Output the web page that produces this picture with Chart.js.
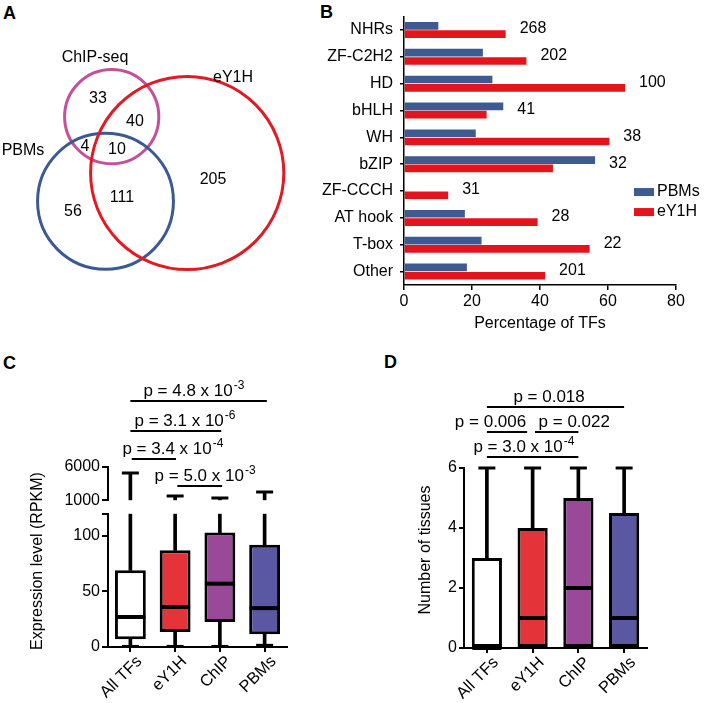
<!DOCTYPE html>
<html lang="en">
<head>
<meta charset="UTF-8">
<title>TF binding panels</title>
<script src="https://cdn.jsdelivr.net/npm/chart.js@4"></script>
<style>
  body { margin: 0; background: #fff; width: 709px; height: 703px; position: relative; overflow: hidden;
         font-family: 'Liberation Sans', Arial, Helvetica, sans-serif; }
  canvas { position: absolute; }
  .tag { position: absolute; font-weight: bold; font-size: 18px; line-height: 18px; }
</style>
</head>
<body>
<div class="tag" style="left:3px;top:4px">A</div>
<div class="tag" style="left:320px;top:3px">B</div>
<div class="tag" style="left:3px;top:354px">C</div>
<div class="tag" style="left:384px;top:353px">D</div>

<canvas id="venn" width="320" height="300" style="left:0;top:0"></canvas>
<canvas id="families" width="394" height="340" style="left:315px;top:0"></canvas>
<canvas id="expr" width="354" height="363" style="left:0;top:340px"></canvas>
<canvas id="tissues" width="355" height="363" style="left:354px;top:340px"></canvas>

<script>
// ---- A: overlap of TFs between methods ----
const vennSets = ['ChIP-seq', 'PBMs', 'eY1H'];
const vennKeys = ['C', 'P', 'E'];
// regions: ChIP only, ChIP+eY1H, ChIP+PBMs, all three, eY1H only, PBMs+eY1H, PBMs only
const vennRegions = ['C', 'CE', 'CP', 'CPE', 'E', 'PE', 'P'];
const vennCounts = [33, 40, 4, 10, 205, 111, 56];

// ---- B: TF families ----
const tfFamilies = ['NHRs', 'ZF-C2H2', 'HD', 'bHLH', 'WH', 'bZIP', 'ZF-CCCH', 'AT hook', 'T-box', 'Other'];
const pbmPct = [10.1, 23.2, 26, 29.2, 21.1, 56.2, 0, 17.9, 22.8, 18.5];
const ey1hPct = [29.9, 36.0, 65, 24.3, 60.4, 43.8, 13.0, 39.3, 54.6, 41.5];
const familySize = [268, 202, 100, 41, 38, 32, 31, 28, 22, 201];
const pctTicks = [0, 20, 40, 60, 80];

// ---- C: expression level (RPKM) ----
const groups = ['All TFs', 'eY1H', 'ChIP', 'PBMs'];
const exprMin = [0.5, 0.5, 0.5, 1.5];
const exprQ1 = [7, 13.5, 22.5, 11.5];
const exprMed = [27, 36, 57, 35];
const exprQ3 = [69, 87, 103, 92];
const exprMax = [5100, 1650, 1350, 2250];
const exprTicksLow = [0, 50, 100];
const exprTicksHigh = [1000, 6000];

// ---- D: number of tissues ----
const tisQ1 = [0, 0, 0, 0];
const tisMed = [0, 1, 2, 1];
const tisQ3 = [3, 4, 5, 4.5];
const tisMax = [6, 6, 6, 6];
const tisTicks = [0, 2, 4, 6];

const FONT = "'Liberation Sans', Arial, Helvetica, sans-serif";
Chart.defaults.font.family = FONT;
Chart.defaults.font.size = 16;
Chart.defaults.color = '#000';
Chart.defaults.animation = false;
Chart.defaults.events = [];
Chart.defaults.plugins.legend.display = false;
Chart.defaults.plugins.tooltip.enabled = false;

const boxColors = ['#ffffff', '#e5333a', '#9a4898', '#5a57a3'];

// p-value text with a superscript exponent, centred on cx
function drawP(ctx, base, exp, cx, baseline) {
    ctx.font = '17px ' + FONT;
    const w1 = ctx.measureText(base).width;
    ctx.font = '12px ' + FONT;
    const w2 = exp ? ctx.measureText(exp).width + 1 : 0;
    const x0 = cx - (w1 + w2) / 2;
    ctx.textAlign = 'left';
    ctx.textBaseline = 'alphabetic';
    ctx.font = '17px ' + FONT;
    ctx.fillText(base, x0, baseline);
    if (exp) {
        ctx.font = '12px ' + FONT;
        ctx.fillText(exp, x0 + w1 + 1, baseline - 7);
    }
}

// significance brackets above the boxes + rotated y title
const boxExtras = {
    id: 'boxExtras',
    afterDraw(chart, args, opts) {
        const { ctx, chartArea } = chart;
        const x = chart.scales.x;
        ctx.save();
        ctx.strokeStyle = '#000';
        ctx.fillStyle = '#000';
        ctx.lineWidth = 2;
        for (const s of opts.sig) {
            const y = chartArea.top + s.level;
            ctx.beginPath();
            ctx.moveTo(x.getPixelForValue(s.from), y);
            ctx.lineTo(x.getPixelForValue(s.to), y);
            ctx.stroke();
            drawP(ctx, s.text, s.exp, x.getPixelForValue(s.at), y - 5);
        }
        ctx.translate(chartArea.left - opts.titleOffset, (chartArea.top + chartArea.bottom) / 2 + opts.titleShift);
        ctx.rotate(-Math.PI / 2);
        ctx.font = '16px ' + FONT;
        ctx.textAlign = 'center';
        ctx.textBaseline = 'middle';
        ctx.fillText(opts.title, 0, 0);
        ctx.restore();
    }
};

const axisBlack = { color: '#000', width: 2 };
function tickGrid(len) {
    return { drawOnChartArea: false, tickLength: len, color: '#000', lineWidth: 2, offset: false };
}
function markDataset(values, axis, radius, width, order) {
    return {
        type: 'line', data: values, yAxisID: axis, showLine: false, clip: false,
        pointStyle: 'line', pointRadius: radius, pointBorderWidth: width,
        pointBorderColor: '#000', order: order
    };
}
function stickDataset(ranges, axis) {
    return {
        type: 'bar', data: ranges, yAxisID: axis, backgroundColor: '#000',
        barThickness: 3, grouped: false, borderWidth: 0, order: 2
    };
}

// ---------- A ----------
const setTotals = vennKeys.map(k =>
    vennRegions.reduce((t, r, i) => t + (r.includes(k) ? vennCounts[i] : 0), 0));
const vennCenters = [[111.7, 116.7], [105.5, 201.3], [187.2, 173]];
const vennColors = ['#c4509c', '#3b5a92', '#e01b23'];
const vennScale = 5.05; // radius per sqrt(count)
const vennSetLabelAt = [[95, 58], [23, 151], [233, 78]];
const vennRegionAt = [[98, 99], [135, 122], [85, 147], [117, 150], [213, 180], [122, 198], [73, 212]];

const vennText = {
    id: 'vennText',
    afterDraw(chart) {
        const { ctx, scales: { x, y } } = chart;
        ctx.save();
        ctx.fillStyle = '#000';
        ctx.font = '16px ' + FONT;
        ctx.textAlign = 'center';
        ctx.textBaseline = 'middle';
        vennSets.forEach((s, i) => ctx.fillText(s, x.getPixelForValue(vennSetLabelAt[i][0]), y.getPixelForValue(vennSetLabelAt[i][1])));
        vennCounts.forEach((c, i) => ctx.fillText(String(c), x.getPixelForValue(vennRegionAt[i][0]), y.getPixelForValue(vennRegionAt[i][1])));
        ctx.restore();
    }
};

new Chart(document.getElementById('venn'), {
    type: 'scatter',
    data: {
        datasets: [{
            data: vennCenters.map(c => ({ x: c[0], y: c[1] })),
            pointRadius: c => {
                const s = c.chart.scales.x;
                return s.getPixelForValue(vennScale * Math.sqrt(setTotals[c.dataIndex])) - s.getPixelForValue(0);
            },
            pointBackgroundColor: 'rgba(0,0,0,0)',
            pointBorderColor: vennColors,
            pointBorderWidth: 3,
            clip: false
        }]
    },
    options: {
        responsive: false,
        layout: { padding: 0 },
        scales: {
            x: { display: false, min: 0, max: 320 },
            y: { display: false, min: 0, max: 300, reverse: true }
        }
    },
    plugins: [vennText]
});

// ---------- B ----------
const familyExtras = {
    id: 'familyExtras',
    afterDraw(chart) {
        const { ctx, chartArea, scales: { x, y } } = chart;
        ctx.save();
        ctx.fillStyle = '#000';
        ctx.font = '16px ' + FONT;
        ctx.textBaseline = 'middle';
        ctx.textAlign = 'left';
        familySize.forEach((n, i) => {
            const end = Math.max(pbmPct[i], ey1hPct[i]);
            ctx.fillText(String(n), x.getPixelForValue(end) + 14, y.getPixelForValue(i) - 1);
        });
        // legend
        chart.data.datasets.forEach((ds, i) => {
            const ly = y.getPixelForValue(6) + 1 + i * 20;
            const lx = chartArea.right - 42;
            ctx.fillStyle = ds.backgroundColor;
            ctx.fillRect(lx, ly - 4, 20, 8);
            ctx.fillStyle = '#000';
            ctx.fillText(ds.label, lx + 23, ly);
        });
        ctx.restore();
    }
};

new Chart(document.getElementById('families'), {
    type: 'bar',
    data: {
        labels: tfFamilies,
        datasets: [
            { label: 'PBMs', data: pbmPct, backgroundColor: '#3d5a91' },
            { label: 'eY1H', data: ey1hPct, backgroundColor: '#e3141c' }
        ]
    },
    options: {
        responsive: false,
        indexAxis: 'y',
        categoryPercentage: 0.62,
        barPercentage: 0.92,
        layout: { padding: { top: 13, right: 33, left: 0, bottom: 0 } },
        scales: {
            x: {
                min: 0, max: 80,
                afterBuildTicks: s => { s.ticks = pctTicks.map(v => ({ value: v })); },
                grid: { drawOnChartArea: false, tickLength: 5, color: '#000', lineWidth: 1.5 },
                border: { color: '#000', width: 1.5 },
                ticks: { padding: 2 },
                title: { display: true, text: 'Percentage of TFs', padding: { top: 0, bottom: 7 } },
                afterFit: s => { s.height = 55; }
            },
            y: {
                grid: { drawOnChartArea: false, tickLength: 4, color: '#000', lineWidth: 1.5, offset: false },
                border: { color: '#000', width: 1.5 },
                ticks: { padding: 7 },
                afterFit: s => { s.width = 89; }
            }
        }
    },
    plugins: [familyExtras]
});

// ---------- C ----------
const LOW_MAX = 120;
const groupTicks = { minRotation: 45, maxRotation: 45, padding: 0, labelOffset: 9, font: { size: 16.5 } };
new Chart(document.getElementById('expr'), {
    type: 'bar',
    data: {
        labels: groups,
        datasets: [
            {
                type: 'bar', data: exprQ1.map((v, i) => [v, exprQ3[i]]), yAxisID: 'y',
                backgroundColor: boxColors, borderColor: '#000', borderWidth: 3, borderSkipped: false,
                grouped: false, barPercentage: 0.69, categoryPercentage: 1, order: 1
            },
            stickDataset(exprQ3.map(v => [v, LOW_MAX]), 'y'),
            stickDataset(exprMin.map((v, i) => [v, exprQ1[i]]), 'y'),
            stickDataset(exprMax.map(v => [exprTicksHigh[0], v]), 'yTop'),
            markDataset(exprMed, 'y', 15, 4, 0),
            markDataset(exprMax, 'yTop', 8.5, 3, 0),
            markDataset(exprMin, 'y', 8.5, 3, 0)
        ]
    },
    options: {
        responsive: false,
        layout: { padding: { top: 127, right: 67, left: 0, bottom: 0 } },
        scales: {
            x: {
                offset: true,
                grid: tickGrid(5),
                border: axisBlack,
                ticks: groupTicks,
                afterFit: s => { s.height = 56; }
            },
            y: {
                type: 'linear', position: 'left', stack: 'expr', stackWeight: 20, weight: 1,
                min: 0, max: LOW_MAX,
                afterBuildTicks: s => { s.ticks = exprTicksLow.concat([LOW_MAX]).map(v => ({ value: v })); },
                ticks: { padding: 2, autoSkip: false, callback: v => exprTicksLow.includes(v) ? String(v) : '' },
                grid: tickGrid(6), border: axisBlack,
                afterFit: s => { s.width = 108; }
            },
            yGap: {
                type: 'linear', position: 'left', stack: 'expr', stackWeight: 2, weight: 2,
                display: false, min: 0, max: 1,
                afterFit: s => { s.width = 108; }
            },
            yTop: {
                type: 'linear', position: 'left', stack: 'expr', stackWeight: 5, weight: 3,
                min: exprTicksHigh[0], max: exprTicksHigh[1],
                afterBuildTicks: s => { s.ticks = exprTicksHigh.map(v => ({ value: v })); },
                ticks: { padding: 2, autoSkip: false, callback: v => String(v) },
                grid: tickGrid(6), border: axisBlack,
                afterFit: s => { s.width = 108; }
            }
        },
        plugins: {
            boxExtras: {
                title: 'Expression level (RPKM)', titleOffset: 70, titleShift: 4,
                sig: [
                    { from: 0, to: 3.05, at: 1.42, level: -66, text: 'p = 4.8 x 10', exp: '-3' },
                    { from: 0, to: 2.03, at: 1.22, level: -36, text: 'p = 3.1 x 10', exp: '-6' },
                    { from: 0.03, to: 1.02, at: 0.95, level: -8, text: 'p = 3.4 x 10', exp: '-4' },
                    { from: 1.05, to: 2.05, at: 1.67, level: 19, text: 'p = 5.0 x 10', exp: '-3' }
                ]
            }
        }
    },
    plugins: [boxExtras]
});

// ---------- D ----------
new Chart(document.getElementById('tissues'), {
    type: 'bar',
    data: {
        labels: groups,
        datasets: [
            {
                type: 'bar', data: tisQ1.map((v, i) => [v, tisQ3[i]]), yAxisID: 'y',
                backgroundColor: boxColors, borderColor: '#000', borderWidth: 3, borderSkipped: false,
                grouped: false, barPercentage: 0.66, categoryPercentage: 1, order: 1
            },
            stickDataset(tisQ3.map((v, i) => [v, tisMax[i]]), 'y'),
            markDataset(tisMed, 'y', 14.5, 4, 0),
            markDataset(tisMax, 'y', 8.5, 3, 0)
        ]
    },
    options: {
        responsive: false,
        layout: { padding: { top: 128, right: 62, left: 0, bottom: 0 } },
        scales: {
            x: {
                offset: true,
                grid: tickGrid(5),
                border: axisBlack,
                ticks: groupTicks,
                afterFit: s => { s.height = 55; }
            },
            y: {
                min: 0, max: 6,
                afterBuildTicks: s => { s.ticks = tisTicks.map(v => ({ value: v })); },
                ticks: { padding: 2 },
                grid: tickGrid(5), border: axisBlack,
                afterFit: s => { s.width = 110; }
            }
        },
        plugins: {
            boxExtras: {
                title: 'Number of tissues', titleOffset: 38, titleShift: -8,
                sig: [
                    { from: 0, to: 3, at: 1.36, level: -61, text: 'p = 0.018', exp: '' },
                    { from: 0, to: 0.88, at: 0.08, level: -36, text: 'p = 0.006', exp: '' },
                    { from: 1.05, to: 2, at: 1.91, level: -36, text: 'p = 0.022', exp: '' },
                    { from: 0, to: 2, at: 0.81, level: -11, text: 'p = 3.0 x 10', exp: '-4' }
                ]
            }
        }
    },
    plugins: [boxExtras]
});
</script>
</body>
</html>
